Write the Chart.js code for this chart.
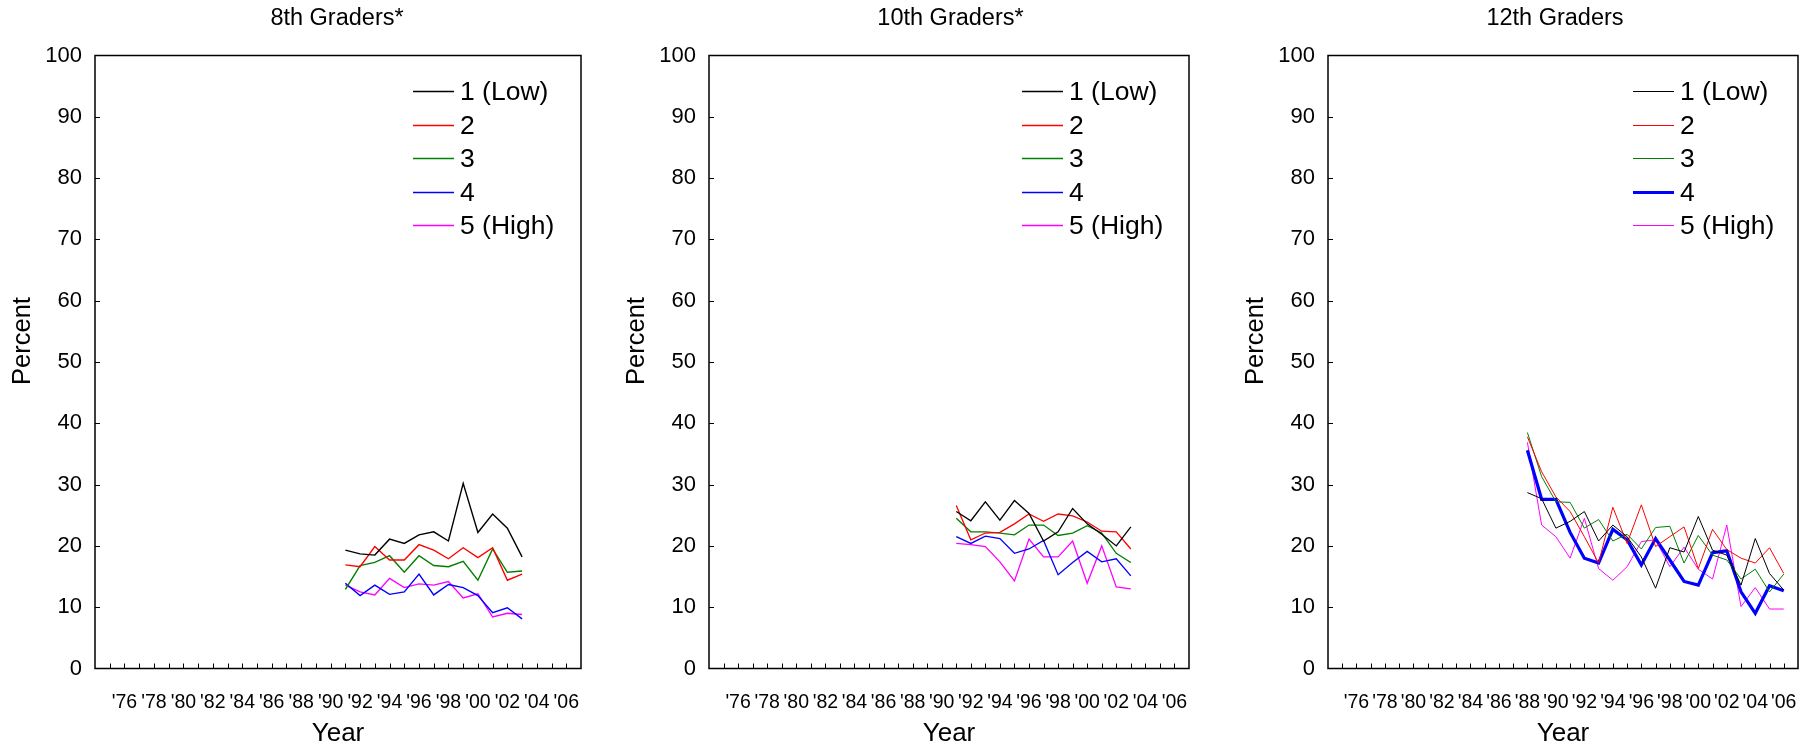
<!DOCTYPE html>
<html>
<head>
<meta charset="utf-8">
<script src="https://cdn.jsdelivr.net/npm/chart.js@4.4.1/dist/chart.umd.min.js"></script>
<style>
  body { margin: 0; background: #fff; width: 1816px; height: 749px; overflow: hidden; }
  .panel { position: absolute; top: 0; }
</style>
</head>
<body>
<div class="panel" style="left:0px"><canvas id="grade8" width="591" height="749"></canvas></div>
<div class="panel" style="left:614px"><canvas id="grade10" width="585" height="749"></canvas></div>
<div class="panel" style="left:1233px"><canvas id="grade12" width="575" height="749"></canvas></div>
<script>
// Años y etiquetas del eje X
const tickYears = [1976, 1978, 1980, 1982, 1984, 1986, 1988, 1990, 1992, 1994, 1996, 1998, 2000, 2002, 2004, 2006];
const tickLabels = ["'76", "'78", "'80", "'82", "'84", "'86", "'88", "'90", "'92", "'94", "'96", "'98", "'00", "'02", "'04", "'06"];
const seriesNames = ['1 (Low)', '2', '3', '4', '5 (High)'];

const years8 = [1991, 1992, 1993, 1994, 1995, 1996, 1997, 1998, 1999, 2000, 2001, 2002, 2003];
const years10 = [1991, 1992, 1993, 1994, 1995, 1996, 1997, 1998, 1999, 2000, 2001, 2002, 2003];
const years12 = [1988, 1989, 1990, 1991, 1992, 1993, 1994, 1995, 1996, 1997, 1998, 1999, 2000, 2001, 2002, 2003, 2004, 2005, 2006];

// 8th grade
const eighthLow  = [19.3, 18.7, 18.5, 21.1, 20.4, 21.8, 22.3, 20.8, 30.2, 22.2, 25.2, 22.9, 18.2];
const eighth2    = [16.9, 16.6, 19.9, 17.7, 17.7, 20.2, 19.3, 17.9, 19.7, 18.1, 19.7, 14.4, 15.4];
const eighth3    = [12.9, 16.8, 17.3, 18.4, 15.7, 18.4, 16.8, 16.6, 17.5, 14.4, 19.5, 15.7, 15.9];
const eighth4    = [13.9, 11.9, 13.6, 12.1, 12.5, 15.4, 12.0, 13.7, 13.2, 11.9, 9.1, 9.9, 8.1];
const eighthHigh = [13.6, 12.5, 12.0, 14.7, 13.2, 13.8, 13.6, 14.2, 11.5, 12.2, 8.4, 9.0, 8.8];

// 10th grade
const tenthLow  = [25.6, 24.1, 27.2, 24.2, 27.4, 25.3, 20.8, 22.3, 26.1, 23.6, 21.9, 20.0, 23.1];
const tenth2    = [26.6, 21.0, 22.1, 22.2, 23.6, 25.2, 24.0, 25.2, 24.9, 23.9, 22.4, 22.3, 19.5];
const tenth3    = [24.5, 22.3, 22.3, 22.1, 21.8, 23.4, 23.4, 21.7, 22.1, 23.3, 22.1, 18.8, 17.3];
const tenth4    = [21.5, 20.4, 21.6, 21.2, 18.8, 19.5, 20.9, 15.3, 17.3, 19.1, 17.4, 17.9, 15.1];
const tenthHigh = [20.4, 20.2, 19.9, 17.4, 14.3, 21.1, 18.2, 18.2, 20.8, 13.9, 20.0, 13.3, 13.0];

// 12th grade
const twelfthLow  = [28.7, 27.7, 22.9, 24.0, 25.6, 20.8, 23.4, 21.5, 18.2, 13.1, 19.7, 19.0, 24.8, 19.3, 18.5, 13.6, 21.2, 15.5, 12.8];
const twelfth2    = [37.8, 32.1, 28.0, 25.6, 21.5, 17.2, 26.3, 20.4, 26.7, 19.9, 21.5, 23.1, 16.3, 22.7, 19.4, 18.0, 17.2, 19.7, 15.5];
const twelfth3    = [38.5, 31.3, 27.2, 27.1, 22.9, 24.3, 20.8, 21.9, 19.5, 23.0, 23.2, 17.2, 21.7, 18.5, 17.7, 14.6, 16.2, 12.5, 15.4];
const twelfth4    = [35.6, 27.6, 27.6, 22.2, 18.0, 17.2, 22.7, 21.0, 16.9, 21.2, 17.7, 14.2, 13.6, 18.9, 19.2, 12.5, 9.0, 13.5, 12.7];
const twelfthHigh = [36.9, 23.4, 21.5, 18.0, 24.5, 16.3, 14.4, 16.6, 20.7, 21.0, 16.6, 19.8, 16.2, 14.6, 23.4, 10.1, 13.2, 9.7, 9.7];

const FONT = "'Liberation Sans', Arial, sans-serif";
Chart.defaults.font.family = FONT;
Chart.defaults.color = '#000';

const colors = ['#000000', '#ff0000', '#008000', '#0000ff', '#ff00ff'];
const hidden = 'rgba(0,0,0,0)';

// marcas hacia dentro, marco, título del panel y "Percent"
const frameAndTicks = {
  id: 'frameAndTicks',
  afterDatasetsDraw(chart, args, opts) {
    const { ctx, chartArea: a, scales: { x, y } } = chart;
    ctx.save();
    ctx.strokeStyle = '#000';
    ctx.lineWidth = 1;
    ctx.beginPath();
    x.ticks.forEach(t => {
      if (t.value > x.min && t.value < x.max) {
        const px = Math.round(x.getPixelForValue(t.value)) + 0.5;
        ctx.moveTo(px, a.bottom);
        ctx.lineTo(px, a.bottom - 5);
      }
    });
    y.ticks.forEach(t => {
      if (t.value > y.min && t.value < y.max) {
        const py = Math.round(y.getPixelForValue(t.value)) + 0.5;
        ctx.moveTo(a.left, py);
        ctx.lineTo(a.left + 5, py);
      }
    });
    ctx.stroke();
    ctx.lineWidth = 1.5;
    ctx.strokeRect(a.left, a.top, a.width, a.height);

    ctx.fillStyle = '#000';
    ctx.textAlign = 'center';
    ctx.textBaseline = 'middle';
    ctx.font = '23.5px ' + FONT;
    ctx.fillText(opts.title, (a.left + a.right) / 2 + opts.dx, 19);

    ctx.font = '25.5px ' + FONT;
    ctx.translate(23, 341);
    ctx.rotate(-Math.PI / 2);
    ctx.fillText('Percent', 0, 0);
    ctx.restore();
  }
};

// leyenda dentro del área
const lineKey = {
  id: 'lineKey',
  afterDatasetsDraw(chart, args, opts) {
    const { ctx, chartArea: a } = chart;
    ctx.save();
    ctx.font = '26.5px ' + FONT;
    ctx.textBaseline = 'middle';
    ctx.fillStyle = '#000';
    chart.data.datasets.forEach((ds, i) => {
      const y = Math.round(a.top + opts.top + i * opts.gap) + 0.5;
      const x0 = a.right - opts.right;
      ctx.strokeStyle = ds.borderColor;
      ctx.lineWidth = ds.borderWidth;
      ctx.beginPath();
      ctx.moveTo(x0, y);
      ctx.lineTo(x0 + 41, y);
      ctx.stroke();
      ctx.fillText(ds.label, x0 + 47, y + 1);
    });
    ctx.restore();
  }
};

function makePanel(id, title, dx, years, series, keyPos, widths) {
  const datasets = series.map((vals, i) => ({
    label: seriesNames[i],
    data: vals.map((v, j) => ({ x: years[j], y: v })),
    borderColor: colors[i],
    borderWidth: widths[i],
    pointRadius: 0,
    tension: 0,
    fill: false
  }));
  new Chart(document.getElementById(id), {
    type: 'line',
    data: { datasets },
    plugins: [frameAndTicks, lineKey],
    options: {
      responsive: false,
      animation: false,
      layout: { padding: { top: 55.5, right: 10, bottom: 0, left: 0 } },
      plugins: {
        legend: { display: false },
        tooltip: { enabled: false },
        title: { display: false },
        frameAndTicks: { title, dx },
        lineKey: keyPos
      },
      scales: {
        x: {
          type: 'linear',
          min: 1974,
          max: 2007,
          afterFit: s => { s.height = 80.5; },
          grid: { display: true, drawOnChartArea: false, drawTicks: true, tickLength: 19, color: hidden },
          border: { display: false },
          ticks: {
            stepSize: 1,
            autoSkip: false,
            maxTicksLimit: 50,
            maxRotation: 0,
            minRotation: 0,
            padding: 3,
            font: { size: 19.5 },
            callback: v => {
              const k = tickYears.indexOf(v);
              return k >= 0 ? tickLabels[k] : '';
            }
          },
          title: { display: true, text: 'Year', font: { size: 26 }, padding: { top: 0, bottom: 0 } }
        },
        y: {
          min: 0,
          max: 100,
          afterFit: s => { s.width = 95; },
          grid: { display: true, drawOnChartArea: false, drawTicks: true, tickLength: 10, color: hidden },
          border: { display: false },
          ticks: { stepSize: 10, padding: 3, font: { size: 22 } }
        }
      }
    }
  });
}

makePanel('grade8', '8th Graders*', -1, years8,
  [eighthLow, eighth2, eighth3, eighth4, eighthHigh],
  { top: 35.5, gap: 33.5, right: 168 }, [1.4, 1.4, 1.4, 1.4, 1.4]);
makePanel('grade10', '10th Graders*', 1.5, years10,
  [tenthLow, tenth2, tenth3, tenth4, tenthHigh],
  { top: 35.5, gap: 33.5, right: 167 }, [1.3, 1.3, 1.3, 1.3, 1.3]);
makePanel('grade12', '12th Graders', -8, years12,
  [twelfthLow, twelfth2, twelfth3, twelfth4, twelfthHigh],
  { top: 35.5, gap: 33.5, right: 165 }, [1, 1, 1, 3.2, 1]);
</script>
</body>
</html>
